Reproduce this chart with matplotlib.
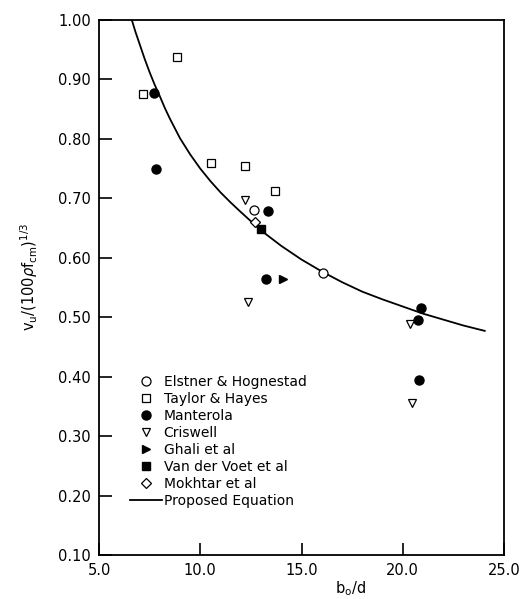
import matplotlib
matplotlib.use('Agg')
import matplotlib.pyplot as plt

# test series: (b0/d, vu/(100 rho fcm)^1/3)
elstner_x = [12.67, 16.05]
elstner_y = [0.680, 0.575]
taylor_x = [7.16, 8.84, 10.52, 12.21, 13.67]
taylor_y = [0.875, 0.937, 0.759, 0.755, 0.713]
manterola_x = [7.73, 7.80, 13.33, 13.23, 20.90, 20.77, 20.79]
manterola_y = [0.877, 0.749, 0.678, 0.564, 0.516, 0.496, 0.394]
criswell_x = [12.21, 12.34, 20.36, 20.47]
criswell_y = [0.698, 0.526, 0.488, 0.356]
ghali_x = [14.10]
ghali_y = [0.564]
voet_x = [12.98]
voet_y = [0.649]
mokhtar_x = [12.70]
mokhtar_y = [0.660]

# proposed equation, points
curve_x = [6.62, 6.8, 7.0, 7.25, 7.5, 7.75, 8.0, 8.25, 8.5, 9.0, 9.5, 10.0,
           10.5, 11.0, 11.5, 12.0, 13.0, 14.0, 15.0, 16.0, 17.0, 18.0, 19.0,
           20.0, 21.0, 22.0, 23.0, 24.05]
curve_y = [1.000, 0.980, 0.960, 0.935, 0.912, 0.891, 0.872, 0.852, 0.834,
           0.801, 0.774, 0.750, 0.729, 0.710, 0.693, 0.677, 0.646, 0.620,
           0.597, 0.577, 0.559, 0.543, 0.530, 0.518, 0.506, 0.496, 0.486,
           0.477]

x_ticks = [5.0, 10.0, 15.0, 20.0, 25.0]
y_ticks = [0.10, 0.20, 0.30, 0.40, 0.50, 0.60, 0.70, 0.80, 0.90, 1.00]

fig = plt.figure(figsize=(5.22, 5.99), dpi=100)
ax = fig.add_axes([0.1897, 0.0735, 0.7758, 0.8931])

ms = 6.5
ax.plot(elstner_x, elstner_y, 'o', mfc='white', mec='black', mew=0.9, ms=ms,
        label='Elstner & Hognestad', zorder=3)
ax.plot(taylor_x, taylor_y, 's', mfc='white', mec='black', mew=0.9, ms=5.5,
        label='Taylor & Hayes', zorder=3)
ax.plot(manterola_x, manterola_y, 'o', color='black', ms=ms,
        label='Manterola', zorder=3)
ax.plot(criswell_x, criswell_y, 'v', mfc='white', mec='black', mew=0.9, ms=5.5,
        label='Criswell', zorder=3)
ax.plot(ghali_x, ghali_y, '>', color='black', ms=5.5,
        label='Ghali et al', zorder=3)
ax.plot(voet_x, voet_y, 's', color='black', ms=5.5,
        label='Van der Voet et al', zorder=3)
ax.plot(mokhtar_x, mokhtar_y, 'D', mfc='white', mec='black', mew=0.9, ms=5,
        label='Mokhtar et al', zorder=3)
ax.plot(curve_x, curve_y, '-', color='black', lw=1.3,
        label='Proposed Equation', zorder=2)

ax.set_xlim(5, 25)
ax.set_ylim(0.10, 1.00)
ax.set_xticks(x_ticks)
ax.set_xticklabels(['%.1f' % v for v in x_ticks])
ax.set_yticks(y_ticks)
ax.set_yticklabels(['%.2f' % v for v in y_ticks])
ax.tick_params(direction='in', length=9, width=1.2, labelsize=10.5,
               top=False, right=False, pad=6)
for s in ax.spines.values():
    s.set_linewidth(1.3)

ax.set_xlabel(r'b$_\mathregular{o}$/d', fontsize=10.5)
ax.xaxis.set_label_coords(0.62, -0.045)
ax.set_ylabel(r'v$_\mathregular{u}$/(100$\rho$f$_\mathregular{cm}$)$^\mathregular{1/3}$',
              fontsize=10.5)
ax.yaxis.set_label_coords(-0.145, 0.52)

ax.legend(loc='upper left', bbox_to_anchor=(0.06, 0.35), frameon=False,
          fontsize=10, handlelength=2.3, handletextpad=0.1, labelspacing=0.22,
          borderpad=0, numpoints=1)

fig.savefig('out.png', dpi=100)
